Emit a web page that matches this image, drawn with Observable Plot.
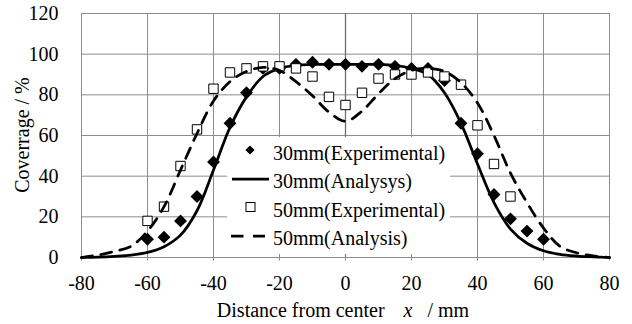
<!DOCTYPE html>
<html>
<head>
<meta charset="utf-8">
<script src="https://cdn.jsdelivr.net/npm/d3@7"></script>
<script src="https://cdn.jsdelivr.net/npm/@observablehq/plot@0.6"></script>
<style>
  html, body { margin: 0; padding: 0; background: #fff; }
  #wrap { position: relative; width: 632px; height: 324px; overflow: hidden;
          font-family: "Liberation Serif", "Times New Roman", serif; font-size: 20px; color: #000; }
  #wrap svg { display: block; }
  .overlay { position: absolute; line-height: 20px; white-space: pre; }
  #legend { position: absolute; left: 227px; top: 137px; width: 223px; height: 117px; background: #fff; }
  #legend .row { position: absolute; left: 0; width: 223px; height: 20px; line-height: 20px; white-space: pre; }
  #legend .row svg { position: absolute; left: 0; top: 0; }
  #legend .row span { position: absolute; left: 46px; top: 0; }
</style>
</head>
<body>
<div id="wrap">
  <div id="chart"></div>
  <div id="legend"></div>
  <div class="overlay" id="xtitle" style="left:43px;top:299.75px;width:600px;text-align:center">Distance from center<span style="margin-left:19px;font-style:italic">x</span><span style="margin-left:15px">/ mm</span></div>
  <div class="overlay" id="ytitle" style="left:-77.75px;top:125px;width:200px;text-align:center;transform:rotate(-90deg)">Coverrage / %</div>
</div>
<script>
// Axis ticks
const xTicks = [-80, -60, -40, -20, 0, 20, 40, 60, 80];
const yTicks = [0, 20, 40, 60, 80, 100, 120];

// Series names shown in the legend
const seriesNames = ["30mm(Experimental)", "30mm(Analysys)", "50mm(Experimental)", "50mm(Analysis)"];

// 30 mm nozzle: measured coverage (%)
const exp30X = [-60, -55, -50, -45, -40, -35, -30, -25, -20, -15, -10, -5, 0, 5, 10, 15, 20, 25, 30, 35, 40, 45, 50, 55, 60];
const exp30Coverage = [9, 10, 18, 30, 47, 66, 81, 93, 93, 95, 96, 95, 95, 94, 95, 94, 93, 93, 87, 66, 51, 31, 19, 13, 9];

// 50 mm nozzle: measured coverage (%)
const exp50X = [-60, -55, -50, -45, -40, -35, -30, -25, -20, -15, -10, -5, 0, 5, 10, 15, 20, 25, 30, 35, 40, 45, 50];
const exp50Coverage = [18, 25, 45, 63, 83, 91, 93, 94, 94, 93, 89, 79, 75, 81, 88, 90, 90, 91, 89, 85, 65, 46, 30];

// Analysis curves, sampled every 5 mm
const analysisX = [-80, -75, -70, -65, -60, -55, -50, -45, -40, -35, -30, -25, -20, -15, -10, -5, 0,
                   5, 10, 15, 20, 25, 30, 35, 40, 45, 50, 55, 60, 65, 70, 75, 80];
const ana30Coverage = [0, 0.2, 0.6, 1.2, 2.5, 5.3, 11, 23, 43, 64, 79, 89, 93, 94.5, 95, 95, 95,
                       95, 95, 94.5, 93, 90, 81, 66, 46, 27, 14, 7, 3.3, 1.5, 0.7, 0.3, 0];
const ana50Coverage = [0, 1.2, 3, 5.5, 13, 25, 43, 61, 77, 86.5, 91.5, 93.5, 92, 86.5, 79.5, 71.5, 67,
                       72, 80.5, 88, 92, 93, 91.5, 86, 76, 60, 41.5, 27, 14.5, 5.5, 2.3, 0.8, 0];

const toRows = (xs, ys) => xs.map((x, i) => ({x, y: ys[i]}));
const exp30 = toRows(exp30X, exp30Coverage);
const exp50 = toRows(exp50X, exp50Coverage);
const ana30 = toRows(analysisX, ana30Coverage);
const ana50 = toRows(analysisX, ana50Coverage);

const gridColor = "#8c8c8c";

const plot = Plot.plot({
  width: 632,
  height: 324,
  marginLeft: 81,
  marginRight: 23,
  marginTop: 13,
  marginBottom: 67,
  style: {fontFamily: "Liberation Serif, Times New Roman, serif", fontSize: "20px", color: "#000"},
  x: {domain: [-80, 80]},
  y: {domain: [0, 120]},
  marks: [
    Plot.ruleX(xTicks, {stroke: gridColor, strokeWidth: 1}),
    Plot.ruleY(yTicks, {stroke: gridColor, strokeWidth: 1}),
    Plot.ruleX([0], {stroke: "#6f6f6f", strokeWidth: 1.3}),
    Plot.axisX(xTicks, {tickSize: 6, dy: -2.5, stroke: gridColor, tickFormat: () => "", label: null}),
    Plot.axisX(xTicks, {tickSize: 0, tickPadding: 18, label: null, tickFormat: d => String(d)}),
    Plot.axisY(yTicks, {tickSize: 0, tickPadding: 23, label: null, tickFormat: d => String(d)}),
    Plot.dot(exp30, {x: "x", y: "y", symbol: "diamond2", r: 5.8, fill: "#000", stroke: "none"}),
    Plot.line(ana30, {x: "x", y: "y", stroke: "#000", strokeWidth: 2.75, curve: "catmull-rom"}),
    Plot.dot(exp50, {x: "x", y: "y", symbol: "square", r: 5.3, fill: "#fff", stroke: "#000", strokeWidth: 1}),
    Plot.line(ana50, {x: "x", y: "y", stroke: "#000", strokeWidth: 2.75, strokeDasharray: "11,8.5", curve: "catmull-rom"})
  ]
});
document.getElementById("chart").appendChild(plot);

// Legend: one row per series, symbol on the left, name on the right
const symbols = [
  '<svg width="44" height="20"><path transform="translate(23,10)" d="M0,-4.6L4.6,0L0,4.6L-4.6,0Z" fill="#000"/></svg>',
  '<svg width="44" height="20"><line x1="5" x2="42" y1="10" y2="10" stroke="#000" stroke-width="2.75"/></svg>',
  '<svg width="44" height="20"><rect x="19" y="5.5" width="9" height="9" fill="#fff" stroke="#000"/></svg>',
  '<svg width="44" height="20"><line x1="4" x2="38" y1="10" y2="10" stroke="#000" stroke-width="2.75" stroke-dasharray="12.5,9.5"/></svg>'
];
const rowTops = [6.25, 34.25, 62.75, 91.25];
const symbolShift = [-3, -2.3, -3, -2.5];
d3.select("#legend").selectAll("div.row")
  .data(seriesNames)
  .join("div")
  .attr("class", "row")
  .style("top", (d, i) => rowTops[i] + "px")
  .html((d, i) => symbols[i].replace("<svg ", `<svg style="top:${symbolShift[i]}px" `) + `<span>${d}</span>`);
</script>
</body>
</html>
